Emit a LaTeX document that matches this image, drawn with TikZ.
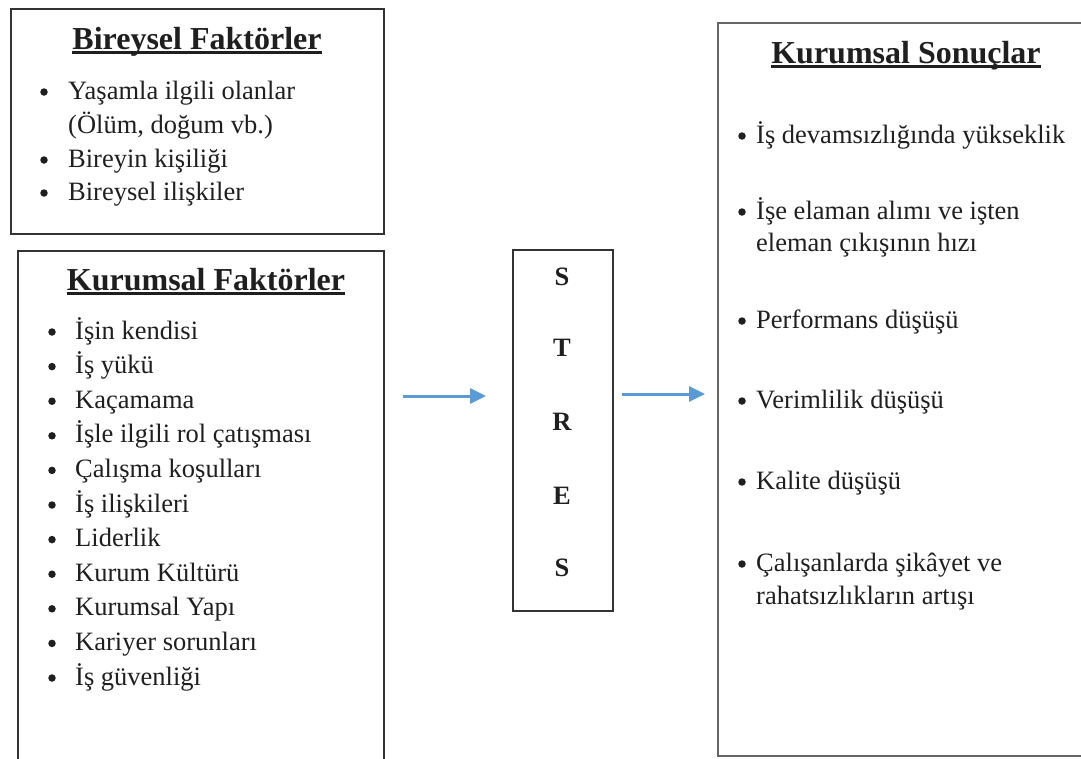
\documentclass[tikz,border=0pt]{standalone}
\usepackage{fontspec}
\setmainfont{Liberation Serif}
\usetikzlibrary{arrows.meta}
\definecolor{arrowblue}{HTML}{5B9BD5}
\definecolor{framedark}{HTML}{333333}
\definecolor{framegray}{HTML}{666666}
\tikzset{
  frame/.style={draw=framedark, line width=1.5pt, inner sep=0pt, anchor=north west},
  head/.style={font=\fontsize{32}{38}\selectfont\bfseries, text=black!88, inner sep=0pt, anchor=base},
  item/.style={font=\fontsize{26.5}{34}\selectfont, text=black!88, inner sep=0pt, anchor=base west},
  dot/.style={fill=black!88, circle, inner sep=0pt, minimum size=7.5pt},
  letter/.style={font=\fontsize{26.5}{30}\selectfont\bfseries, text=black!88, inner sep=0pt},
  flow/.style={draw=arrowblue, line width=3pt, -{Triangle[length=16pt,width=15pt,fill=arrowblue]}},
  headrule/.style={draw=black!88, line width=2.8pt, line cap=butt}
}
\begin{document}
\begin{tikzpicture}[x=1pt,y=-1pt]
\useasboundingbox (0,0) rectangle (1081,758);

% frames
\node[frame, minimum width=373pt, minimum height=225pt] (bf) at (10,8) {};
\node[frame, minimum width=366pt, minimum height=540pt] (kf) at (17,250) {};
\node[frame, minimum width=100pt, minimum height=361pt] (st) at (512,249) {};
\node[frame, draw=framegray, minimum width=380pt, minimum height=733pt] (ks) at (717,22) {};

% headings with underline
\node[head] (bfh) at (197,49) {Bireysel Faktörler};
\draw[headrule] ([yshift=-3.5pt]bfh.base west) -- ([yshift=-3.5pt]bfh.base east);
\node[head] (kfh) at (206,290) {Kurumsal Faktörler};
\draw[headrule] ([yshift=-3.5pt]kfh.base west) -- ([yshift=-3.5pt]kfh.base east);
\node[head] (ksh) at (906,63) {Kurumsal Sonuçlar};
\draw[headrule] ([yshift=-3.5pt]ksh.base west) -- ([yshift=-3.5pt]ksh.base east);

% individual factors
\node[dot] (bfd1) at (44,92) {};
\node[item] (bf1) at (68,99) {Yaşamla ilgili olanlar};
\node[item] (bf1b) at (68,133) {(Ölüm, doğum vb.)};
\node[dot] (bfd2) at (44,160) {};
\node[item] (bf2) at (68,167) {Bireyin kişiliği};
\node[dot] (bfd3) at (44,193) {};
\node[item] (bf3) at (68,200) {Bireysel ilişkiler};

% organisational factors
\foreach \t [count=\i] in {İşin kendisi, İş yükü, Kaçamama, İşle ilgili rol çatışması,
  Çalışma koşulları, İş ilişkileri, Liderlik, Kurum Kültürü, Kurumsal Yapı,
  Kariyer sorunları, İş güvenliği}{
  \node[dot] (kfd\i) at (52,{339+34.6*(\i-1)-7}) {};
  \node[item] (kf\i) at (75,{339+34.6*(\i-1)}) {\t};
}

% stress column
\node[letter] (s1) at (562,277) {S};
\node[letter] (s2) at (562,348) {T};
\node[letter] (s3) at (562,422) {R};
\node[letter] (s4) at (562,496) {E};
\node[letter] (s5) at (562,568) {S};

% organisational outcomes
\node[dot] (ksd1) at (742,136) {};
\node[item] (ks1) at (756,143) {İş devamsızlığında yükseklik};
\node[dot] (ksd2) at (742,212) {};
\node[item] (ks2) at (756,219) {İşe elaman alımı ve işten};
\node[item] (ks2b) at (756,251) {eleman çıkışının hızı};
\node[dot] (ksd3) at (742,321) {};
\node[item] (ks3) at (756,328) {Performans düşüşü};
\node[dot] (ksd4) at (742,401) {};
\node[item] (ks4) at (756,408) {Verimlilik düşüşü};
\node[dot] (ksd5) at (742,482) {};
\node[item] (ks5) at (756,489) {Kalite düşüşü};
\node[dot] (ksd6) at (742,564) {};
\node[item] (ks6) at (756,571) {Çalışanlarda şikâyet ve};
\node[item] (ks6b) at (756,604) {rahatsızlıkların artışı};

% flow arrows
\coordinate (a1s) at (403,396);
\coordinate (a1e) at (486,396);
\coordinate (a2s) at (622,394);
\coordinate (a2e) at (705,394);
\draw[flow] (a1s) -- (a1e);
\draw[flow] (a2s) -- (a2e);
\end{tikzpicture}
\end{document}
